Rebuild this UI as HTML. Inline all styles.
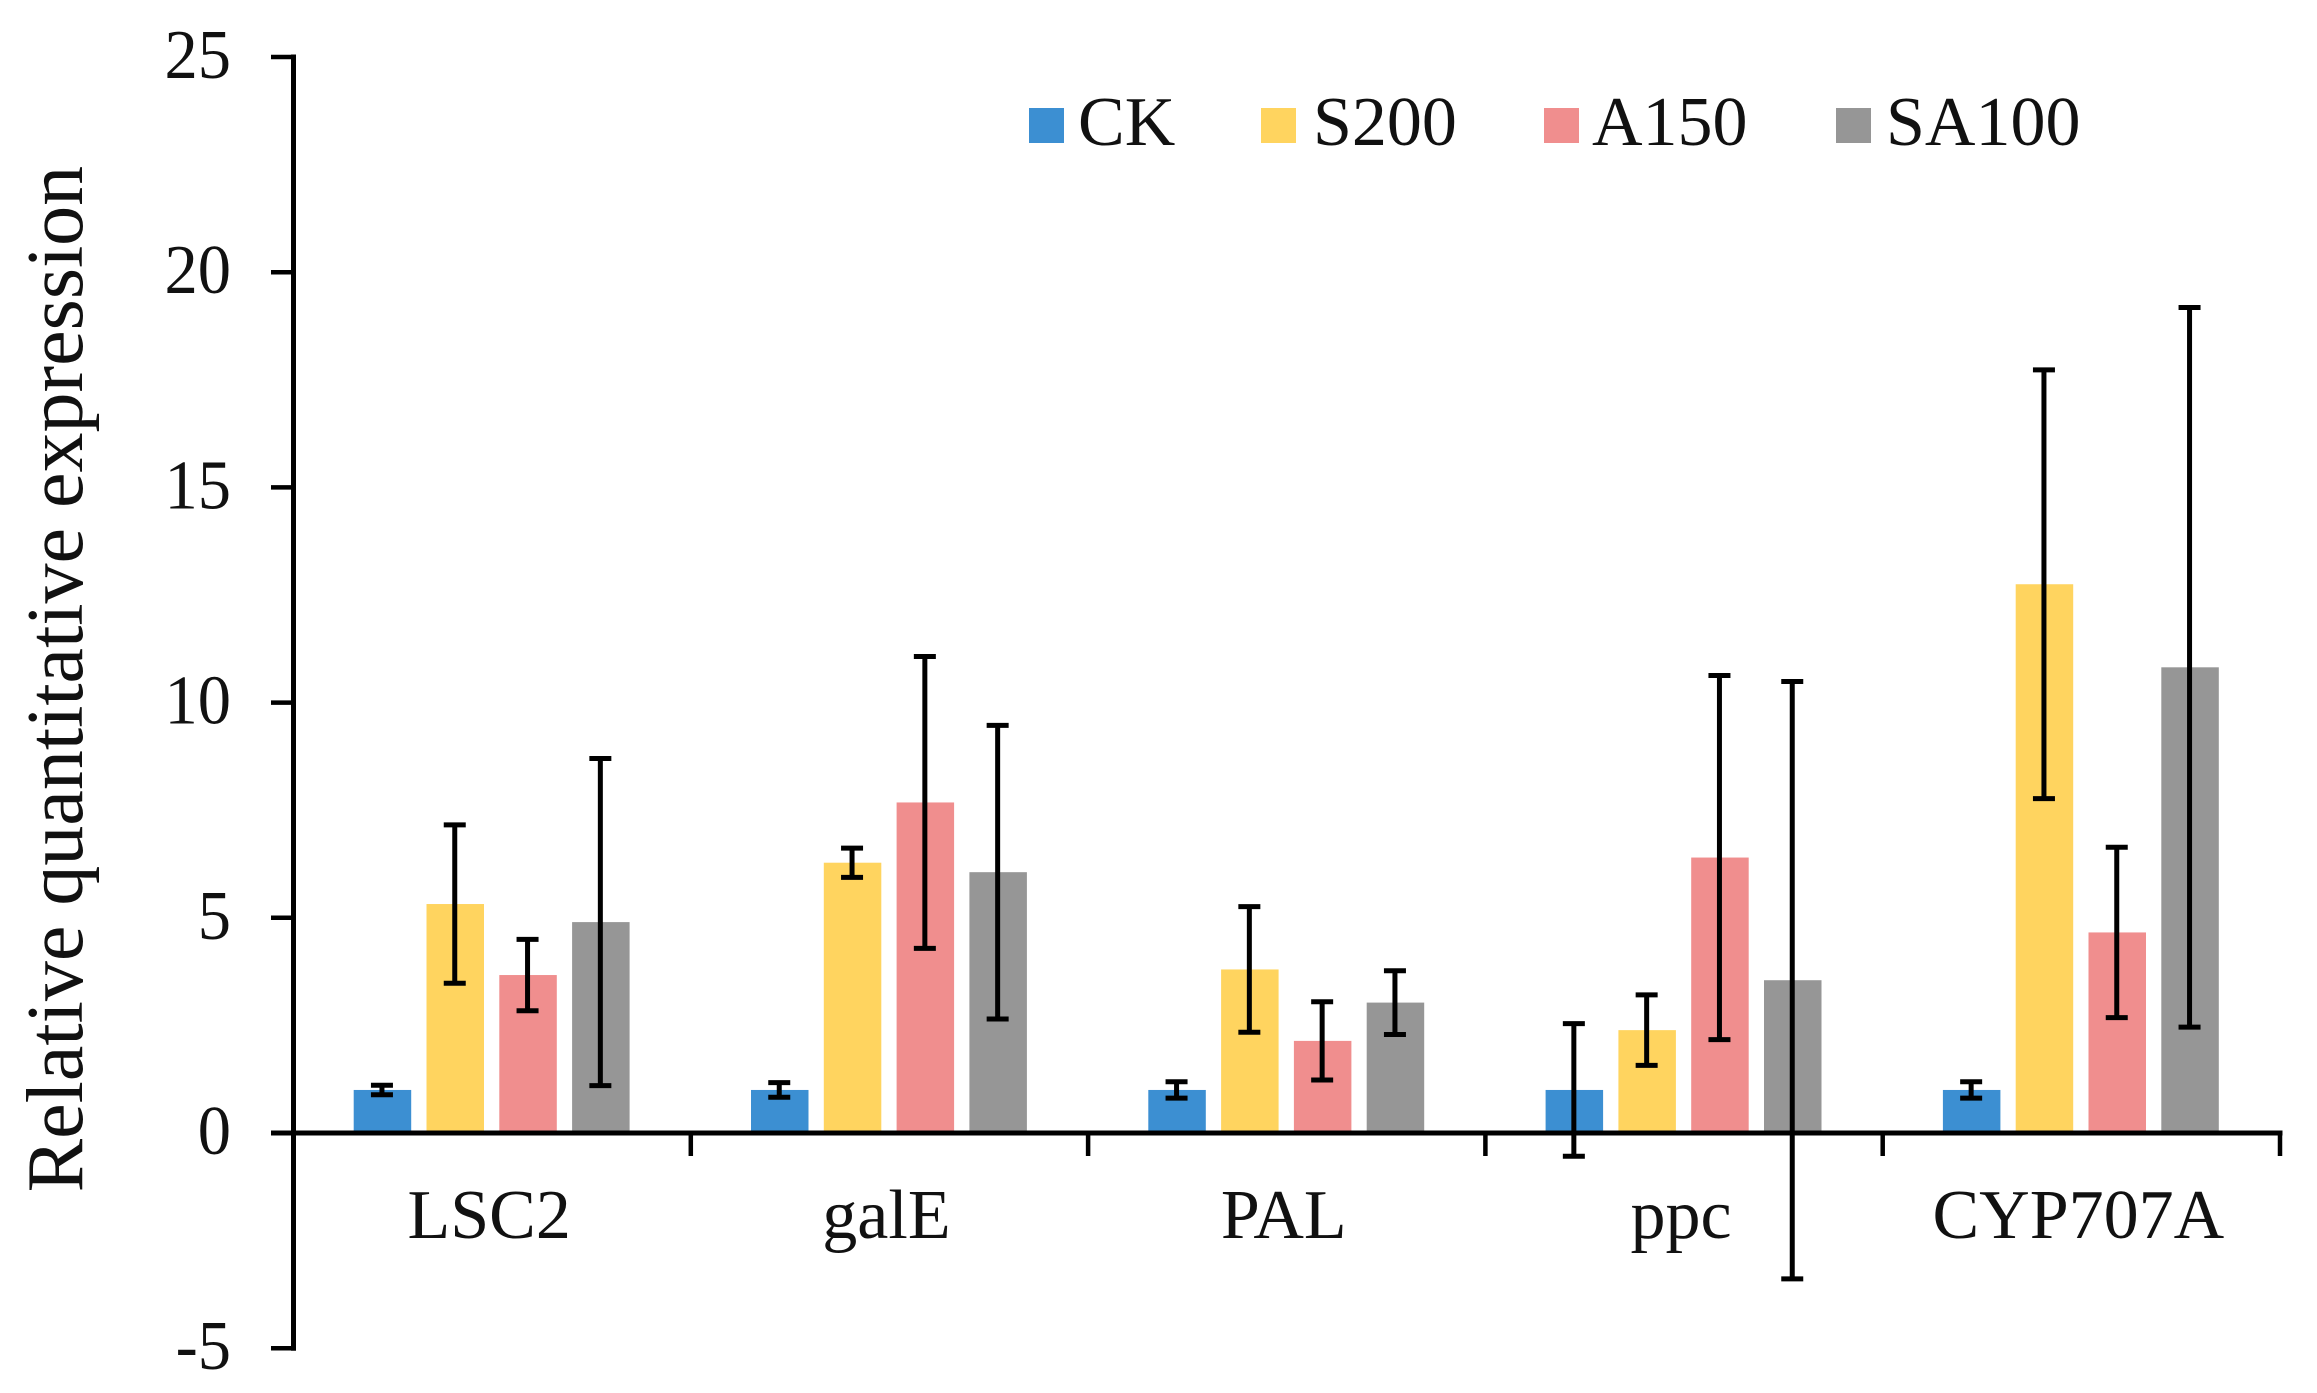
<!DOCTYPE html>
<html lang="en">
<head>
<meta charset="utf-8">
<title>Relative quantitative expression</title>
<style>
  html, body { margin: 0; padding: 0; background: #fff; }
  svg { display: block; }
  text { font-family: "Liberation Serif", serif; fill: #111; }
</style>
</head>
<body>
<svg id="chart" xmlns="http://www.w3.org/2000/svg" width="2317" height="1393" viewBox="0 0 2317 1393"></svg>
<script>
const categories = ['LSC2', 'galE', 'PAL', 'ppc', 'CYP707A'];
const seriesNames = ['CK', 'S200', 'A150', 'SA100'];
const ck = [1, 1, 1, 1, 1];
const s200 = [5.32, 6.28, 3.8, 2.39, 12.75];
const a150 = [3.67, 7.68, 2.14, 6.4, 4.66];
const sa100 = [4.9, 6.06, 3.03, 3.55, 10.82];
const ckErr = [0.11, 0.17, 0.19, 1.54, 0.19];
const s200Err = [1.84, 0.34, 1.46, 0.82, 4.98];
const a150Err = [0.83, 3.39, 0.91, 4.23, 1.98];
const sa100Err = [3.8, 3.41, 0.74, 6.94, 8.36];
const yTicks = [25, 20, 15, 10, 5, 0, -5];

const colors = ['#3c8fd2', '#ffd45f', '#f08e8e', '#969696'];
const values = [ck, s200, a150, sa100];
const errors = [ckErr, s200Err, a150Err, sa100Err];

const NS = 'http://www.w3.org/2000/svg';
const svg = document.getElementById('chart');
const x0 = 293.5, x1 = 2280, y0 = 1133, pxPerUnit = 43.04;
const groupW = (x1 - x0) / categories.length;
const barW = 57.5, barStep = 72.8;

function y(v) { return y0 - v * pxPerUnit; }
function groupLeft(i) { return x0 + i * groupW; }
function barCenter(i, s) { return groupLeft(i) + groupW / 2 - 0.5 + (s - 1.5) * barStep; }

function mk(tag, attrs, parent) {
  const el = document.createElementNS(NS, tag);
  for (const k in attrs) el.setAttribute(k, attrs[k]);
  (parent || svg).appendChild(el);
  return el;
}

// bars
categories.forEach((cat, i) => {
  values.forEach((series, s) => {
    const top = y(series[i]);
    const bar = mk('rect', { x: barCenter(i, s) - barW / 2, y: top, width: barW, height: y0 - top, fill: colors[s] });
    
    
  });
});

// axes
const yAxis = mk('line', { x1: x0, x2: x0, y1: y(25) - 2.5, y2: y(-5) + 2.5, stroke: '#000', 'stroke-width': 5 });


const xAxis = mk('line', { x1: 271, x2: x1 + 2.5, y1: y0, y2: y0, stroke: '#000', 'stroke-width': 5 });



// y ticks and labels
yTicks.forEach((t) => {
  const tick = mk('line', { x1: 271, x2: x0, y1: y(t), y2: y(t), stroke: '#000', 'stroke-width': 4.5 });
  
  
  const label = mk('text', { x: 0, y: 0, 'text-anchor': 'end', 'font-size': 70, transform: 'translate(231 ' + (y(t) + 21) + ') scale(0.95 1)' });
  
  
  label.textContent = String(t);
});

// x ticks and labels
for (let i = 1; i <= categories.length; i++) {
  const tick = mk('line', { x1: groupLeft(i), x2: groupLeft(i), y1: y0, y2: y0 + 23, stroke: '#000', 'stroke-width': 4.5 });
  
  
}
categories.forEach((cat, i) => {
  const label = mk('text', { x: groupLeft(i) + groupW / 2 - 3, y: 1238, 'text-anchor': 'middle', 'font-size': 70 });
  
  
  label.textContent = cat;
});

// error bars
categories.forEach((cat, i) => {
  values.forEach((series, s) => {
    const cx = barCenter(i, s) - 0.5;
    const hi = y(series[i] + errors[s][i]);
    const lo = y(series[i] - errors[s][i]);
    const g = mk('g', { stroke: '#000', 'stroke-width': 5 });
    
    
    mk('line', { x1: cx, x2: cx, y1: hi, y2: lo }, g);
    mk('line', { x1: cx - 11, x2: cx + 11, y1: hi, y2: hi }, g);
    mk('line', { x1: cx - 11, x2: cx + 11, y1: lo, y2: lo }, g);
  });
});

// legend
const swatchLeft = [1029, 1261, 1544, 1836];
const legendTextLeft = [1078, 1313, 1592, 1886];
seriesNames.forEach((name, s) => {
  const g = mk('g', {});
  
  
  const sw = mk('rect', { x: swatchLeft[s], y: 108, width: 35, height: 35, fill: colors[s] }, g);
  
  
  const t = mk('text', { x: legendTextLeft[s], y: 145, 'font-size': 70 }, g);
  
  
  t.textContent = name;
});

// y axis title
const title = mk('text', { x: 0, y: 0, 'text-anchor': 'middle', 'font-size': 80, transform: 'translate(82 679) rotate(-90)' });


title.textContent = 'Relative quantitative expression';
</script>
</body>
</html>
